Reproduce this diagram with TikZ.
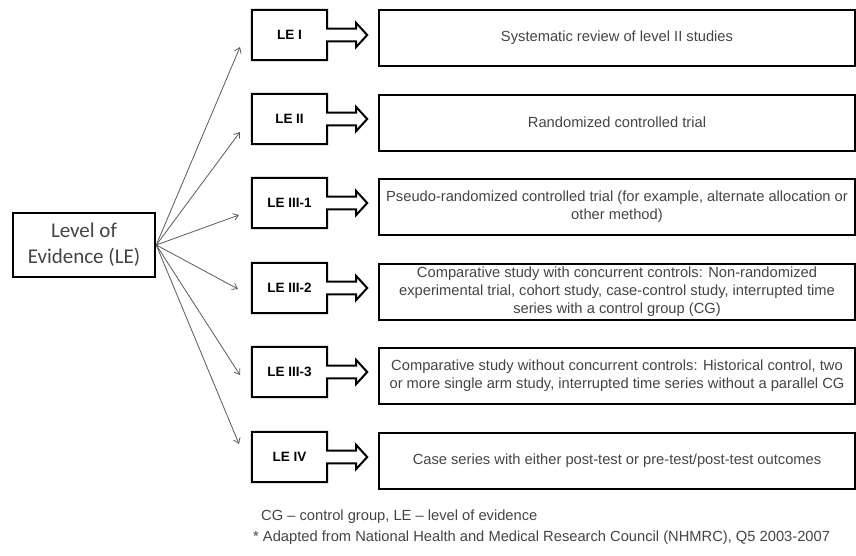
\documentclass[tikz,border=0pt]{standalone}
\usepackage{fontspec}
\setmainfont{Liberation Sans}
\newfontfamily\calib{Carlito}
\usetikzlibrary{calc,arrows.meta}
\definecolor{txtgray}{HTML}{444444}
\definecolor{fangray}{HTML}{5A5A5A}
\begin{document}
\begin{tikzpicture}[x=1pt,y=-1pt,
  lebox/.style={minimum width=75pt,minimum height=50pt,inner sep=0pt,font=\bfseries\fontsize{13.5}{16}\selectfont},
  lepath/.style={draw,line width=2pt,line join=miter},
  descbox/.style={draw,line width=2pt,minimum width=476pt,minimum height=56pt,inner sep=1pt,align=center,text=txtgray,font=\fontsize{14.7}{18}\selectfont},
  fan/.style={draw=fangray,line width=0.8pt,-{Straight Barb[length=5pt,width=7pt]}},
  foot/.style={anchor=west,inner sep=0pt,text=txtgray,font=\fontsize{14.7}{16}\selectfont}
]
\useasboundingbox (0,0) rectangle (856,555);

\node[draw,line width=2.5pt,minimum width=142pt,minimum height=64pt,inner sep=0pt,align=center,
      text=txtgray,font=\calib\fontsize{21}{26}\selectfont] (lev) at (84,245) {Level of\\Evidence (LE)};

\foreach \n/\c/\lab in {1/35/{LE I},2/119/{LE II},3/203/{LE III-1},4/288/{LE III-2},5/372/{LE III-3},6/457/{LE IV}}{
  \node[lebox] (le\n) at (289.5,\c) {\lab};
  \draw[lepath] (le\n.north west) -- (le\n.north east) -- ($(le\n.east)+(0,-6.3)$) -- ($(le\n.east)+(29,-6.3)$)
     -- ($(le\n.east)+(29,-12)$) -- ($(le\n.east)+(40,0)$) -- ($(le\n.east)+(29,12)$) -- ($(le\n.east)+(29,6.3)$)
     -- ($(le\n.east)+(0,6.3)$) -- (le\n.south east) -- (le\n.south west) -- cycle;
}

\node[descbox] (d1) at (617,38) {Systematic review of level II studies};
\node[descbox] (d2) at (617,122.5) {Randomized controlled trial};
\node[descbox] (d3) at (617,206.5) {Pseudo-randomized controlled trial (for example, alternate allocation or\\other method)};
\node[descbox] (d4) at (617,291.5) {Comparative study with concurrent controls: Non-randomized\\experimental trial, cohort study, case-control study, interrupted time\\series with a control group (CG)};
\node[descbox] (d5) at (617,375.5) {Comparative study without concurrent controls: Historical control, two\\or more single arm study, interrupted time series without a parallel CG};
\node[descbox] (d6) at (617,460.5) {Case series with either post-test or pre-test/post-test outcomes};

\coordinate (t1) at (240,47);
\coordinate (t2) at (240,132);
\coordinate (t3) at (239,215);
\coordinate (t4) at (238,289);
\coordinate (t5) at (240,375);
\coordinate (t6) at (239,444);
\foreach \n in {1,...,6}{
  \draw[fan] (lev.east) -- (t\n);
}

\node[foot] (f1) at (261,517) {CG -- control group, LE -- level of evidence};
\node[foot] (f2) at (253,538) {* Adapted from National Health and Medical Research Council (NHMRC), Q5 2003-2007};
\end{tikzpicture}
\end{document}
